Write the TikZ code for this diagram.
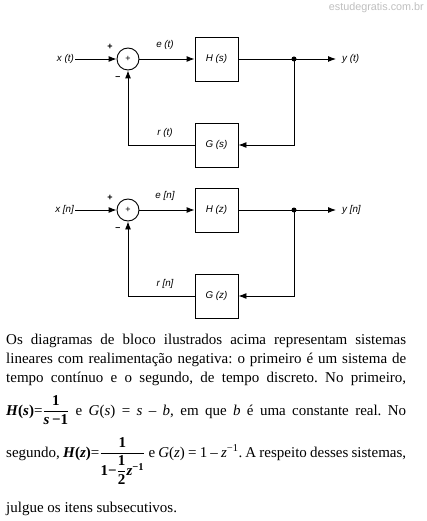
\documentclass[tikz,border=0pt]{standalone}
\usepackage{amsmath}
\usepackage{fontspec}
\setmainfont{Liberation Serif}
\newfontfamily\blockfont{Liberation Sans}
\usetikzlibrary{arrows.meta}
\tikzset{
	lbl/.style={inner sep=1pt,font=\blockfont\itshape\fontsize{9.8}{11}\selectfont},
	sgn/.style={inner sep=1pt,font=\blockfont\bfseries\fontsize{9}{10}\selectfont},
	blockbox/.style={draw,line width=0.9pt,minimum width=43pt,minimum height=44pt,font=\blockfont\itshape\fontsize{9.8}{11}\selectfont},
	summer/.style={draw,circle,line width=0.9pt,minimum size=22pt,inner sep=0pt,font=\blockfont\fontsize{9}{10}\selectfont},
	sig/.style={line width=0.9pt,-{Latex[length=8pt,width=6pt]}},
	txt/.style={anchor=base west,inner sep=0pt,font=\fontsize{15}{18}\selectfont},
}
\newcommand{\bft}[1]{\text{\bfseries #1}}
\frenchspacing

\begin{document}
\begin{tikzpicture}[x=1pt,y=-1pt]
	\useasboundingbox (0,0) rectangle (426,521);
	\node[anchor=north east,inner sep=0pt,text=black!25,font=\blockfont\fontsize{10.8}{12}\selectfont] (site) at (424,2) {estudegratis.com.br};
	\foreach \k/\oy/\sg/\vr in {1/0/(t)/s,2/151/[n]/z} {
		\node[summer] (sum\k) at (128,59+\oy) {+};
		\node[lbl,anchor=east] (x\k) at (75,59+\oy) {x \sg};
		\node[lbl] (e\k) at (165,45+\oy) {e \sg};
		\node[blockbox] (H\k) at (216.5,59+\oy) {H (\vr)};
		\node[blockbox] (G\k) at (216.5,145+\oy) {G (\vr)};
		\node[lbl] (r\k) at (165,133+\oy) {r \sg};
		\node[sgn] (pl\k) at (110,47+\oy) {+};
		\node[sgn] (mi\k) at (118,78+\oy) {–};
		\coordinate (d\k) at (294,59+\oy);
		\coordinate (o\k) at (336,59+\oy);
		\node[lbl,anchor=west] (y\k) at (341,59+\oy) {y \sg};
		\draw[sig] (x\k) -- (sum\k);
		\draw[sig] (sum\k) -- (H\k);
		\draw[sig] (H\k) -- (o\k);
		\fill (d\k) circle (2.5pt);
		\draw[sig] (d\k) |- (G\k);
		\draw[sig] (G\k) -| (sum\k);
	}
	\node[txt] (l1) at (6,344) {\makebox[400pt][s]{Os diagramas de bloco ilustrados acima representam sistemas}};
	\node[txt] (l2) at (6,363) {\makebox[400pt][s]{lineares com realimentação negativa: o primeiro é um sistema de}};
	\node[txt] (l3) at (6,382) {\makebox[400pt][s]{tempo contínuo e o segundo, de tempo discreto. No primeiro,}};
	\node[txt] (l4) at (6,415) {\makebox[400pt][s]{\textbf{\textit{H}(\textit{s})}=$\dfrac{\bft{1}}{\bft{\itshape s\upshape\,−1}}$ e \textit{G}(\textit{s}) = \textit{s} – \textit{b}, em que \textit{b} é uma constante real. No}};
	\node[txt] (l5) at (6,457) {\makebox[400pt][s]{segundo, \textbf{\textit{H}(\textit{z})}=$\dfrac{\bft{1}}{\bft{1−}\dfrac{\bft{1}}{\bft{2}}\bft{\itshape z}^{\bft{−1}}}$ e \textit{G}(\textit{z}) = 1 – \textit{z}\textsuperscript{−1}. A respeito desses sistemas,}};
	\node[txt] (l6) at (6,512) {julgue os itens subsecutivos.};
\end{tikzpicture}
\end{document}
